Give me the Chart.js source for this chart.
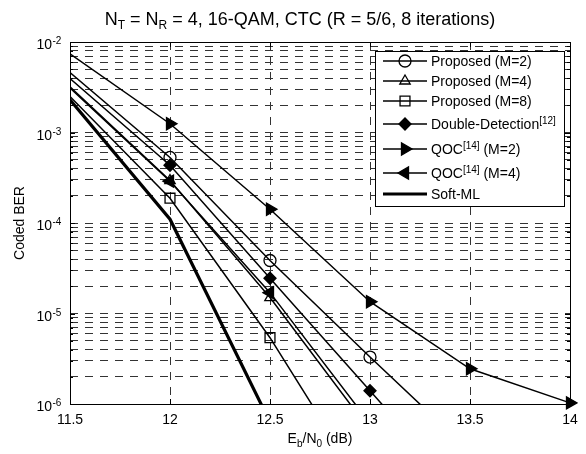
<!DOCTYPE html>
<html>
<head>
<meta charset="utf-8">
<script src="https://cdn.jsdelivr.net/npm/chart.js@4.4.0/dist/chart.umd.min.js"></script>
<style>
  body { margin: 0; background: #fff; }
</style>
</head>
<body>
<canvas id="ber" width="586" height="454"></canvas>
<script>
// Eb/N0 points (dB) and coded BER
const propM2X = [11.5, 12, 12.5, 13, 13.5];
const propM2  = [4.6e-3, 5.3e-4, 3.85e-5, 3.3e-6, 3.0e-7];
const propM4X = [11.5, 12, 12.5, 13];
const propM4  = [3.2e-3, 2.95e-4, 1.5e-5, 5.1e-7];
const propM8X = [11.5, 12, 12.5, 13];
const propM8  = [2.5e-3, 1.88e-4, 5.4e-6, 9.3e-8];
const ddX     = [11.5, 12, 12.5, 13, 13.5];
const dd      = [3.95e-3, 4.35e-4, 2.45e-5, 1.4e-6, 8e-8];
const qocM2X  = [11.5, 12, 12.5, 13, 13.5, 14];
const qocM2   = [7.4e-3, 1.25e-3, 1.42e-4, 1.35e-5, 2.45e-6, 1.03e-6];
const qocM4X  = [11.5, 12, 12.5, 13];
const qocM4   = [3.1e-3, 2.9e-4, 1.7e-5, 6.1e-7];
const softMLX = [11.5, 12, 12.5];
const softML  = [2.3e-3, 1.1e-4, 6.3e-7];

const yDecadeExp = [-6, -5, -4, -3, -2];
const titleParts = [['N', 18], ['T', 12, 4], [' = N', 18], ['R', 12, 4], [' = 4, 16-QAM, CTC (R = 5/6, 8 iterations)', 18]];
const xTitleParts = [['E', 14], ['b', 10, 4], ['/N', 14], ['0', 10, 4], [' (dB)', 14]];
const yTitle = 'Coded BER';
// legend labels: [text, superscript, rest]
const legendLabels = [
  ['Proposed (M=2)', '', ''],
  ['Proposed (M=4)', '', ''],
  ['Proposed (M=8)', '', ''],
  ['Double-Detection', '[12]', ''],
  ['QOC', '[14]', ' (M=2)'],
  ['QOC', '[14]', ' (M=4)'],
  ['Soft-ML', '', '']
];

const FONT = '"Liberation Sans", Arial, Helvetica, sans-serif';
const font = px => px + 'px ' + FONT;

function pts(xs, ys) {
  return xs.map((x, i) => ({ x: x, y: ys[i] }));
}

function markerRadius(r) {
  return ctx => {
    const p = ctx.raw;
    if (!p || p.x < 12 || p.y < 1e-6) return 0;
    return r;
  };
}

function series(label, xs, ys, style, r, filled, rotation, width) {
  return {
    label: label,
    data: pts(xs, ys),
    borderColor: '#000',
    borderWidth: width || 1.5,
    pointStyle: style,
    pointRotation: rotation || 0,
    pointRadius: markerRadius(r),
    pointBorderWidth: 1.3,
    pointBorderColor: '#000',
    pointBackgroundColor: filled ? '#000' : 'rgba(0,0,0,0)',
    tension: 0,
    fill: false
  };
}

const datasets = [
  series('Proposed (M=2)', propM2X, propM2, 'circle', 6, false),
  series('Proposed (M=4)', propM4X, propM4, 'triangle', 6, false),
  series('Proposed (M=8)', propM8X, propM8, 'rect', 7, false),
  series('Double-Detection[12]', ddX, dd, 'rectRot', 6, true),
  series('QOC[14] (M=2)', qocM2X, qocM2, 'triangle', 7, true, 90),
  series('QOC[14] (M=4)', qocM4X, qocM4, 'triangle', 7, true, -90),
  series('Soft-ML', softMLX, softML, false, 0, false, 0, 3.2)
];
datasets[4].clip = { left: 0, top: 0, right: 8, bottom: 8 };

function drawRich(c, parts, x, y, align) {
  c.save();
  c.textBaseline = 'alphabetic';
  c.textAlign = 'left';
  c.fillStyle = '#000';
  let w = 0;
  parts.forEach(p => { c.font = font(p[1]); w += c.measureText(p[0]).width; });
  let cx = align === 'center' ? x - w / 2 : (align === 'right' ? x - w : x);
  parts.forEach(p => {
    c.font = font(p[1]);
    c.fillText(p[0], cx, y + (p[2] || 0));
    cx += c.measureText(p[0]).width;
  });
  c.restore();
}

const decorPlugin = {
  id: 'decor',
  beforeDraw(chart) {
    const c = chart.ctx;
    c.save();
    c.fillStyle = '#fff';
    c.fillRect(0, 0, chart.width, chart.height);
    c.restore();
  },
  afterDraw(chart) {
    const c = chart.ctx;
    const a = chart.chartArea;
    const xs = chart.scales.x, ys = chart.scales.y;

    // axes box
    c.save();
    c.strokeStyle = '#000';
    c.lineWidth = 1;
    c.strokeRect(Math.round(a.left) + 0.5, Math.round(a.top) + 0.5,
      Math.round(a.right - a.left), Math.round(a.bottom - a.top));

    // inward tick marks
    c.beginPath();
    ys.ticks.forEach(t => {
      const y = Math.round(ys.getPixelForValue(t.value)) + 0.5;
      const len = t.major ? 5 : 3;
      c.moveTo(a.left, y); c.lineTo(a.left + len, y);
      c.moveTo(a.right, y); c.lineTo(a.right - len, y);
    });
    xs.ticks.forEach(t => {
      const x = Math.round(xs.getPixelForValue(t.value)) + 0.5;
      c.moveTo(x, a.top); c.lineTo(x, a.top + 5);
      c.moveTo(x, a.bottom); c.lineTo(x, a.bottom - 5);
    });
    c.stroke();
    c.restore();

    // y tick labels 10^k
    yDecadeExp.forEach(e => {
      const y = ys.getPixelForValue(Math.pow(10, e));
      drawRich(c, [['10', 14]], 52, y + 7, 'right');
      drawRich(c, [[String(e), 10]], 52.5, y + 2, 'left');
    });

    // title and axis titles
    drawRich(c, titleParts, 300, 25, 'center');
    drawRich(c, xTitleParts, (a.left + a.right) / 2, 443, 'center');
    c.save();
    c.translate(24, (a.top + a.bottom) / 2);
    c.rotate(-Math.PI / 2);
    c.font = font(14);
    c.fillStyle = '#000';
    c.textAlign = 'center';
    c.textBaseline = 'alphabetic';
    c.fillText(yTitle, 0, 0);
    c.restore();

    // legend box
    const box = { left: 375, top: 51, right: 564, bottom: 206 };
    const rows = [61, 81, 101, 124, 149, 173, 194];
    c.save();
    c.fillStyle = '#fff';
    c.fillRect(box.left, box.top, box.right - box.left, box.bottom - box.top);
    c.strokeStyle = '#000';
    c.lineWidth = 1;
    c.strokeRect(box.left + 0.5, box.top + 0.5, box.right - box.left, box.bottom - box.top);
    chart.data.datasets.forEach((ds, i) => {
      const y = rows[i];
      c.strokeStyle = '#000';
      c.lineWidth = ds.borderWidth;
      c.beginPath();
      c.moveTo(383, y);
      c.lineTo(427, y);
      c.stroke();
      if (ds.pointStyle) {
        const r = ds.pointRadius({ raw: { x: 12, y: 1 } });
        c.fillStyle = ds.pointBackgroundColor;
        c.strokeStyle = '#000';
        c.lineWidth = ds.pointBorderWidth;
        Chart.helpers.drawPoint(c, {
          pointStyle: ds.pointStyle,
          rotation: ds.pointRotation,
          radius: r,
          borderWidth: ds.pointBorderWidth
        }, 405, y);
      }
      const lab = legendLabels[i];
      const parts = [[lab[0], 14]];
      if (lab[1]) parts.push([lab[1], 10, -5]);
      if (lab[2]) parts.push([lab[2], 14]);
      drawRich(c, parts, 431, y + 5, 'left');
    });
    c.restore();
  }
};

new Chart(document.getElementById('ber'), {
  type: 'line',
  data: { datasets: datasets },
  options: {
    responsive: false,
    animation: false,
    layout: { padding: { top: 42, right: 16, bottom: 0, left: 0 } },
    plugins: {
      legend: { display: false },
      title: { display: false },
      tooltip: { enabled: false }
    },
    scales: {
      x: {
        type: 'linear',
        min: 11.5,
        max: 14,
        ticks: {
          stepSize: 0.5,
          padding: 8,
          color: '#000',
          font: { family: FONT, size: 14 },
          callback: v => String(v)
        },
        grid: { color: '#333', lineWidth: 1, drawTicks: false },
        border: { display: false, dash: [8, 7] },
        afterFit: s => { s.height = 50; }
      },
      y: {
        type: 'logarithmic',
        min: 1e-6,
        max: 1e-2,
        ticks: { display: false },
        grid: { color: '#333', lineWidth: 1, drawTicks: false },
        border: { display: false, dash: [8, 7] },
        afterBuildTicks: s => {
          s.ticks = s.ticks.filter(t => {
            const m = t.value / Math.pow(10, Math.floor(Math.log10(t.value) + 1e-9));
            return Math.abs(m - 1.5) > 0.01;
          });
        },
        afterFit: s => { s.width = 70; }
      }
    }
  },
  plugins: [decorPlugin]
});
</script>
</body>
</html>
